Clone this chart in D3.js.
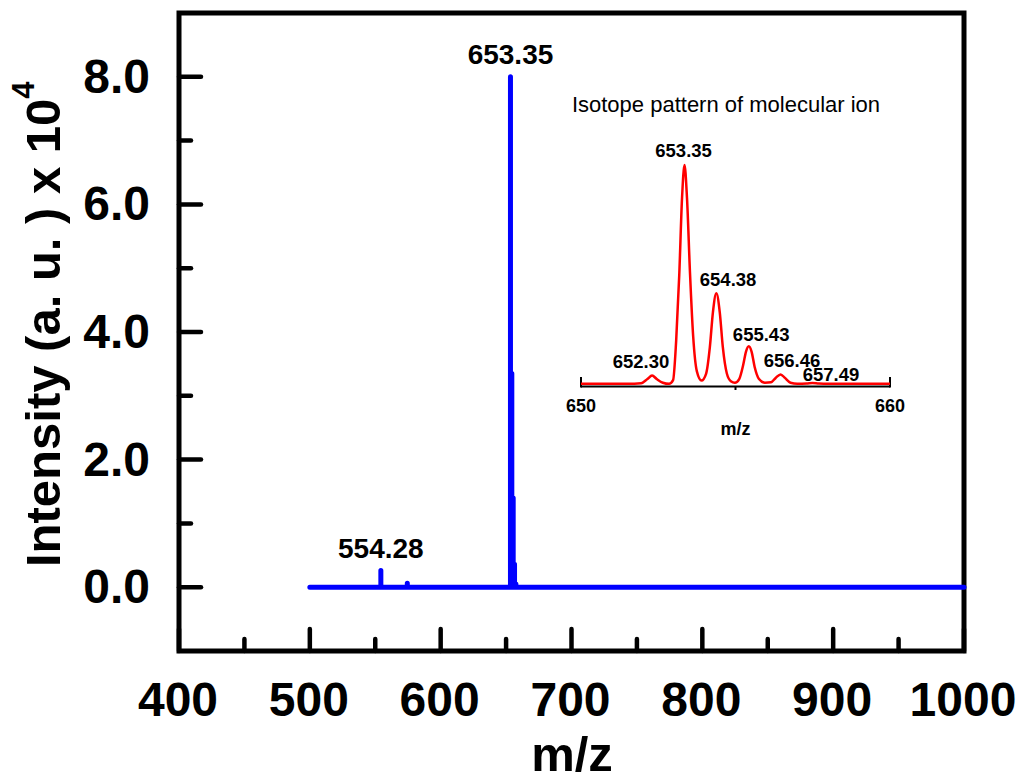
<!DOCTYPE html>
<html>
<head>
<meta charset="utf-8">
<script src="https://cdn.jsdelivr.net/npm/d3@7"></script>
<style>
  body { margin: 0; background: #fff; }
  text { font-family: "Liberation Sans", Arial, sans-serif; }
</style>
</head>
<body>
<div id="chart"></div>
<script>
// main spectrum: stick peaks (m/z, intensity x 10^4)
const peakMz = [554.28, 574.5, 653.35, 654.38, 655.43, 656.46, 657.49];
const peakInt = [0.26, 0.06, 8.0, 3.35, 1.4, 0.36, 0.05];
const spectrumRange = [500, 1000];

// peak labels on main plot
const mainLabels = [
  { mz: 554.28, val: 0.26, text: "554.28" },
  { mz: 653.35, val: 8.0, text: "653.35" }
];

// inset isotope pattern (m/z, % relative)
const isoMz = [650.0, 651.5, 651.95, 652.15, 652.30, 652.45, 652.65, 652.85, 652.98, 653.08,
  653.18, 653.27, 653.35, 653.43, 653.53, 653.63, 653.75, 653.90, 654.05, 654.17,
  654.27, 654.38, 654.49, 654.59, 654.72, 654.85, 654.98, 655.12, 655.25, 655.34,
  655.43, 655.52, 655.62, 655.76, 655.95, 656.15, 656.30, 656.46, 656.60, 656.78,
  657.0, 657.3, 657.49, 657.7, 658.0, 660.0];
const isoInt = [0.3, 0.3, 0.6, 2.5, 4.1, 2.5, 0.8, 0.3, 2, 20,
  50, 85, 100, 85, 50, 22, 6, 1.8, 5, 17,
  33, 41.6, 33, 17, 5, 1.5, 0.8, 2.5, 9, 15,
  17.4, 15, 8, 2.5, 0.8, 1, 3, 4.6, 3, 0.8,
  0.3, 0.4, 0.7, 0.4, 0.3, 0.3];

// inset peak labels and where they sit (m/z of text centre, % level of baseline)
const isoLabels = ["652.30", "653.35", "654.38", "655.43", "656.46", "657.49"];
const isoLabelMz = [651.94, 653.32, 654.76, 655.83, 656.83, 658.09];
const isoLabelLevel = [7.5, 103.6, 45, 19.6, 8, 1.6];

const xTicks = [400, 500, 600, 700, 800, 900, 1000];
const xMinor = [450, 550, 650, 750, 850, 950];
const yTicks = [0, 2, 4, 6, 8];
const yMinor = [1, 3, 5, 7];

const width = 1024, height = 778;

const svg = d3.select("#chart")
  .append("svg")
  .attr("width", width)
  .attr("height", height);

const x = d3.scaleLinear().domain([400, 1000]).range([179, 964]);
const y = d3.scaleLinear().domain([-1, 9]).range([651, 13]);

// ticks (inward)
svg.selectAll(".xt")
  .data(xTicks.concat(xMinor))
  .join("line")
  .attr("x1", d => x(d)).attr("x2", d => x(d))
  .attr("y1", y(-1))
  .attr("y2", d => y(-1) - (xTicks.includes(d) ? 22 : 12))
  .attr("stroke", "#000").attr("stroke-width", 4.5).attr("stroke-linecap", "round");

svg.selectAll(".yt")
  .data(yTicks.concat(yMinor))
  .join("line")
  .attr("y1", d => y(d)).attr("y2", d => y(d))
  .attr("x1", x(400))
  .attr("x2", d => x(400) + (yTicks.includes(d) ? 22 : 12))
  .attr("stroke", "#000").attr("stroke-width", 4.5).attr("stroke-linecap", "round");

// frame
svg.append("rect")
  .attr("x", x(400)).attr("y", y(9))
  .attr("width", x(1000) - x(400)).attr("height", y(-1) - y(9))
  .attr("fill", "none").attr("stroke", "#000").attr("stroke-width", 5);

// tick labels
svg.selectAll(".xl")
  .data(xTicks)
  .join("text")
  .attr("x", d => x(d) - 1).attr("y", 716)
  .attr("text-anchor", "middle")
  .attr("font-size", 48).attr("font-weight", "bold")
  .text(d => d);

svg.selectAll(".yl")
  .data(yTicks)
  .join("text")
  .attr("x", 150).attr("y", d => y(d) + 16)
  .attr("text-anchor", "end")
  .attr("font-size", 48).attr("font-weight", "bold")
  .text(d => d3.format(".1f")(d));

// axis titles
svg.append("text")
  .attr("x", 572).attr("y", 771)
  .attr("text-anchor", "middle")
  .attr("font-size", 49).attr("font-weight", "bold")
  .text("m/z");

const yt = svg.append("text")
  .attr("transform", "translate(60,567) rotate(-90)")
  .attr("text-anchor", "start")
  .attr("font-size", 49).attr("font-weight", "bold");
yt.append("tspan").text("Intensity (a. u. ) x 10");
yt.append("tspan").attr("dy", -26).attr("font-size", 31).text("4");

// blue stick spectrum
const pts = [[spectrumRange[0], 0]];
peakMz.forEach((m, i) => {
  pts.push([m, 0], [m, peakInt[i]], [m, 0]);
});
pts.push([spectrumRange[1], 0]);

const line = d3.line().x(d => x(d[0])).y(d => y(d[1]));

svg.append("path")
  .datum(pts)
  .attr("d", line)
  .attr("fill", "none")
  .attr("stroke", "#0000ff")
  .attr("stroke-width", 5)
  .attr("stroke-linejoin", "round")
  .attr("stroke-linecap", "round");

svg.selectAll(".ml")
  .data(mainLabels)
  .join("text")
  .attr("x", d => x(d.mz))
  .attr("y", d => y(d.val) - 13)
  .attr("text-anchor", "middle")
  .attr("font-size", 28).attr("font-weight", "bold")
  .text(d => d.text);

// inset
const ix = d3.scaleLinear().domain([650, 660]).range([581, 890]);
const iy = d3.scaleLinear().domain([0, 100]).range([384.5, 165]);

svg.append("text")
  .attr("x", 726).attr("y", 112)
  .attr("text-anchor", "middle")
  .attr("font-size", 22)
  .text("Isotope pattern of molecular ion");

const inset = svg.append("g");
inset.append("line")
  .attr("x1", ix(650)).attr("x2", ix(660))
  .attr("y1", 386.5).attr("y2", 386.5)
  .attr("stroke", "#000").attr("stroke-width", 2);
inset.selectAll(".it")
  .data([650, 660])
  .join("line")
  .attr("x1", d => ix(d)).attr("x2", d => ix(d))
  .attr("y1", 387.5).attr("y2", 377)
  .attr("stroke", "#000").attr("stroke-width", 2);
inset.append("line")
  .attr("x1", ix(655)).attr("x2", ix(655))
  .attr("y1", 386).attr("y2", 390)
  .attr("stroke", "#000").attr("stroke-width", 2);

inset.selectAll(".il")
  .data([650, 660])
  .join("text")
  .attr("x", d => ix(d)).attr("y", 412)
  .attr("text-anchor", "middle")
  .attr("font-size", 18).attr("font-weight", "bold")
  .text(d => d);

inset.append("text")
  .attr("x", ix(655)).attr("y", 435)
  .attr("text-anchor", "middle")
  .attr("font-size", 18).attr("font-weight", "bold")
  .text("m/z");

const iline = d3.line()
  .x((d, i) => ix(isoMz[i]))
  .y(d => iy(d))
  .curve(d3.curveMonotoneX);

inset.append("path")
  .datum(isoInt)
  .attr("d", iline)
  .attr("fill", "none")
  .attr("stroke", "#ff0000")
  .attr("stroke-width", 2.5);

inset.selectAll(".pl")
  .data(isoLabels)
  .join("text")
  .attr("x", (d, i) => ix(isoLabelMz[i]))
  .attr("y", (d, i) => iy(isoLabelLevel[i]))
  .attr("text-anchor", "middle")
  .attr("font-size", 18.5).attr("font-weight", "bold")
  .text(d => d);
</script>
</body>
</html>
